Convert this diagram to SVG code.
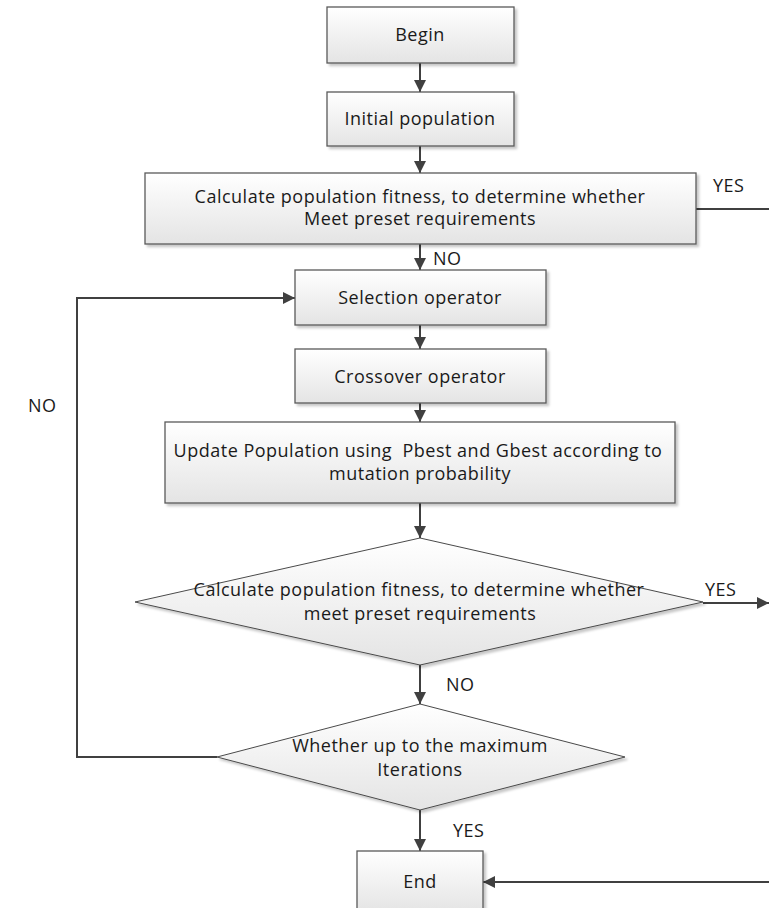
<svg xmlns="http://www.w3.org/2000/svg" width="769" height="908" viewBox="0 0 769 908">
<defs>
<linearGradient id="g" x1="0" y1="0" x2="0" y2="1">
<stop offset="0" stop-color="#ffffff"/>
<stop offset="1" stop-color="#e4e4e4"/>
</linearGradient>
<filter id="sh" x="-5%" y="-5%" width="115%" height="130%">
<feDropShadow dx="2.5" dy="2.5" stdDeviation="1" flood-color="#000" flood-opacity="0.22"/>
</filter>
<marker id="ah" markerUnits="userSpaceOnUse" markerWidth="13" markerHeight="13" refX="12" refY="6" orient="auto">
<path d="M0,0 L12,6 L0,12 z" fill="#404040"/>
</marker>
<style>
.box{fill:url(#g);stroke:#5a5a5a;stroke-width:1.3;filter:url(#sh)}
.dia{fill:url(#g);stroke:#4a4a4a;stroke-width:1;filter:url(#sh)}
.t{font-family:"Open Sans","Noto Sans","Liberation Sans",sans-serif;font-size:18px;letter-spacing:0.5px;fill:#1a1a1a;text-anchor:middle}
.l{font-family:"Open Sans","Noto Sans","Liberation Sans",sans-serif;font-size:18px;letter-spacing:0.5px;fill:#1a1a1a;text-anchor:start}
.c{fill:none;stroke:#404040;stroke-width:2}
</style>
</defs>
<rect width="769" height="908" fill="#ffffff"/>
<g id="connectors">
<line class="c" x1="420" y1="63" x2="420" y2="92" marker-end="url(#ah)"/>
<line class="c" x1="420" y1="146" x2="420" y2="173" marker-end="url(#ah)"/>
<line class="c" x1="696" y1="209" x2="769" y2="209"/>
<line class="c" x1="420" y1="244" x2="420" y2="270" marker-end="url(#ah)"/>
<line class="c" x1="420" y1="325" x2="420" y2="349" marker-end="url(#ah)"/>
<line class="c" x1="420" y1="403" x2="420" y2="422" marker-end="url(#ah)"/>
<line class="c" x1="420" y1="503" x2="420" y2="538" marker-end="url(#ah)"/>
<line class="c" x1="703" y1="603" x2="769" y2="603" marker-end="url(#ah)"/>
<line class="c" x1="420" y1="665" x2="420" y2="704" marker-end="url(#ah)"/>
<polyline class="c" points="217,757 77,757 77,298 295,298" marker-end="url(#ah)"/>
<line class="c" x1="420" y1="810" x2="420" y2="851" marker-end="url(#ah)"/>
<line class="c" x1="769" y1="882" x2="483" y2="882" marker-end="url(#ah)"/>
<text class="l" x="713" y="192">YES</text>
<text class="l" x="433" y="265">NO</text>
<text class="l" x="28" y="412">NO</text>
<text class="l" x="705" y="596">YES</text>
<text class="l" x="446" y="691">NO</text>
<text class="l" x="453" y="837">YES</text>
</g>
<g id="begin">
<rect class="box" x="327" y="7" width="187" height="56"/>
<text class="t" x="420" y="41">Begin</text>
</g>
<g id="initial">
<rect class="box" x="327" y="92" width="187" height="54"/>
<text class="t" x="420" y="125">Initial population</text>
</g>
<g id="calc1">
<rect class="box" x="145" y="173" width="551" height="71"/>
<text class="t" x="420" y="203">Calculate population fitness, to determine whether</text>
<text class="t" x="420" y="225">Meet preset requirements</text>
</g>
<g id="selection">
<rect class="box" x="295" y="270" width="251" height="55"/>
<text class="t" x="420" y="304">Selection operator</text>
</g>
<g id="crossover">
<rect class="box" x="295" y="349" width="251" height="54"/>
<text class="t" x="420" y="383">Crossover operator</text>
</g>
<g id="update">
<rect class="box" x="165" y="422" width="510" height="81"/>
<text class="t" x="418" y="457" xml:space="preserve">Update Population using  Pbest and Gbest according to</text>
<text class="t" x="420" y="480">mutation probability</text>
</g>
<g id="calc2">
<polygon class="dia" points="420,538 703,602 420,665 135,602"/>
<text class="t" x="419" y="596">Calculate population fitness, to determine whether</text>
<text class="t" x="420" y="620">meet preset requirements</text>
</g>
<g id="maxiter">
<polygon class="dia" points="420,704 625,757 420,810 217,757"/>
<text class="t" x="420" y="752">Whether up to the maximum</text>
<text class="t" x="420" y="776">Iterations</text>
</g>
<g id="end">
<rect class="box" x="357" y="851" width="126" height="62"/>
<text class="t" x="420" y="888">End</text>
</g>
</svg>
